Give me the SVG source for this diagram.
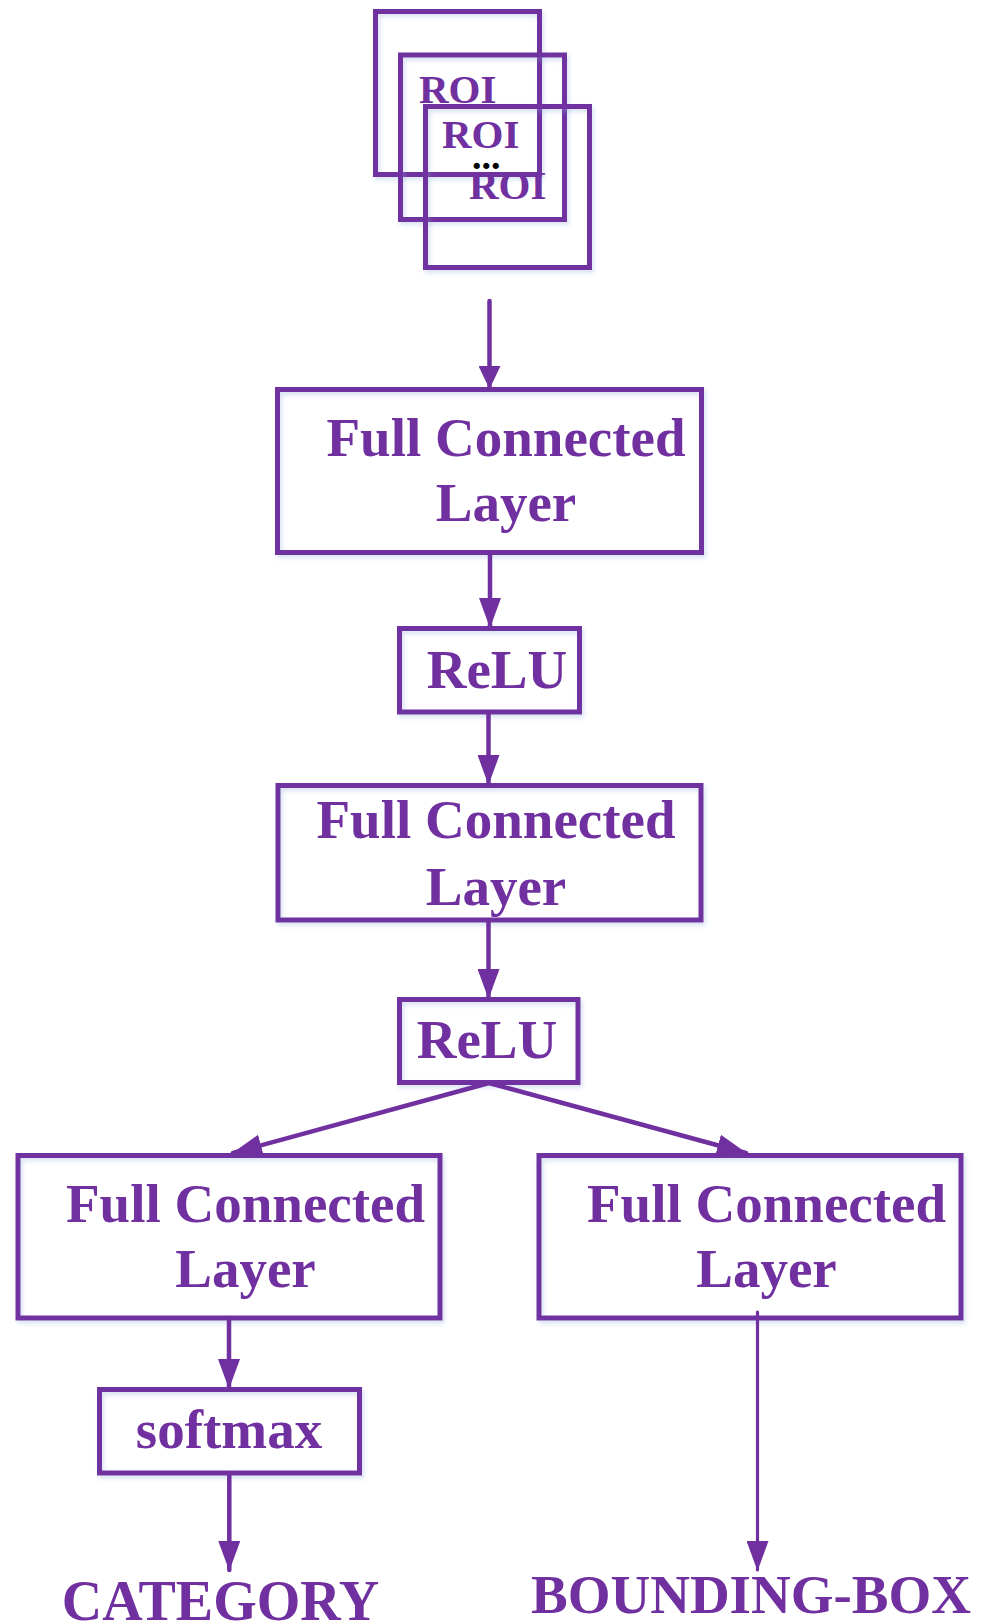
<svg xmlns="http://www.w3.org/2000/svg" width="988" height="1623" viewBox="0 0 988 1623">
  <style>
    .box { fill: none; stroke: #7030A0; stroke-width: 5; filter: url(#soft); }
    .lbl { font-family: "Liberation Serif", "Times New Roman", serif; font-weight: bold; font-size: 55px; fill: #7030A0; text-anchor: middle; }
    .big { font-size: 56px; }
    .roi { font-family: "Liberation Serif", "Times New Roman", serif; font-weight: bold; font-size: 41px; fill: #7030A0; }
    .dots { font-family: "Liberation Serif", "Times New Roman", serif; font-weight: bold; font-size: 38px; fill: #000000; }
    .wire { fill: none; stroke: #7030A0; stroke-width: 4.5; stroke-linecap: round; }
    .thin { stroke-width: 3.2; }
  </style>
  <defs>
    <filter id="soft" x="-10%" y="-10%" width="120%" height="130%">
      <feDropShadow dx="2" dy="3" stdDeviation="2" flood-color="#8ea9db" flood-opacity="0.35"/>
    </filter>
    <marker id="arrow" markerUnits="userSpaceOnUse" markerWidth="30" markerHeight="22" refX="29" refY="11" orient="auto">
      <path d="M0,0 L30,11 L0,22 z" fill="#7030A0"/>
    </marker>
    <marker id="arrowShort" markerUnits="userSpaceOnUse" markerWidth="23" markerHeight="22" refX="22" refY="11" orient="auto">
      <path d="M0,0 L23,11 L0,22 z" fill="#7030A0"/>
    </marker>
  </defs>
  <rect width="988" height="1623" fill="#ffffff"/>

  <!-- stacked regions of interest -->
  <g id="roi">
    <rect class="box" x="375.5" y="11.5" width="164" height="163"/>
    <rect class="box" x="400.5" y="55" width="164" height="164.5"/>
    <rect class="box" x="425.5" y="106.5" width="164" height="161"/>
    <text class="roi" x="419" y="103">ROI</text>
    <text class="roi" x="442" y="148">ROI</text>
    <text class="dots" x="472" y="169">...</text>
    <text class="roi" x="469" y="199">ROI</text>
  </g>

  <g id="fc1">
    <rect class="box" x="277.5" y="389.5" width="424" height="163"/>
    <text class="lbl" x="506" y="456">Full Connected</text>
    <text class="lbl" x="506" y="521">Layer</text>
  </g>

  <g id="relu1">
    <rect class="box" x="399.5" y="628.5" width="180" height="83.5"/>
    <text class="lbl" x="497" y="688">ReLU</text>
  </g>

  <g id="fc2">
    <rect class="box" x="278" y="785.5" width="423" height="134.5"/>
    <text class="lbl" x="496" y="838">Full Connected</text>
    <text class="lbl" x="496" y="905">Layer</text>
  </g>

  <g id="relu2">
    <rect class="box" x="399.5" y="999.5" width="178.5" height="83"/>
    <text class="lbl" x="487" y="1058">ReLU</text>
  </g>

  <g id="fc3">
    <rect class="box" x="18" y="1155.5" width="422" height="162.5"/>
    <text class="lbl" x="245.5" y="1222">Full Connected</text>
    <text class="lbl" x="245.5" y="1287">Layer</text>
  </g>

  <g id="fc4">
    <rect class="box" x="539" y="1155.5" width="422" height="162.5"/>
    <text class="lbl" x="766.5" y="1222">Full Connected</text>
    <text class="lbl" x="766.5" y="1287">Layer</text>
  </g>

  <g id="softmax">
    <rect class="box" x="99.5" y="1389.5" width="260" height="83.5"/>
    <text class="lbl" x="229" y="1448">softmax</text>
  </g>

  <g id="category">
    <text class="lbl big" x="220.5" y="1620">CATEGORY</text>
  </g>

  <g id="bounding-box">
    <text class="lbl" x="751" y="1613">BOUNDING-BOX</text>
  </g>

  <!-- connectors -->
  <g id="connectors">
    <line class="wire" x1="489.5" y1="301" x2="489.5" y2="388" marker-end="url(#arrowShort)"/>
    <line class="wire" x1="490" y1="553" x2="490" y2="627" marker-end="url(#arrow)"/>
    <line class="wire" x1="488.5" y1="712" x2="488.5" y2="784" marker-end="url(#arrow)"/>
    <line class="wire" x1="488.5" y1="920" x2="488.5" y2="998" marker-end="url(#arrow)"/>
    <line class="wire" x1="489" y1="1083" x2="233" y2="1153" marker-end="url(#arrow)"/>
    <line class="wire" x1="489" y1="1083" x2="746" y2="1153" marker-end="url(#arrow)"/>
    <line class="wire" x1="229" y1="1318" x2="229" y2="1388" marker-end="url(#arrow)"/>
    <line class="wire" x1="229.3" y1="1473" x2="229.3" y2="1570" marker-end="url(#arrow)"/>
    <line class="wire thin" x1="757.5" y1="1312" x2="757.5" y2="1570" marker-end="url(#arrow)"/>
  </g>
</svg>
